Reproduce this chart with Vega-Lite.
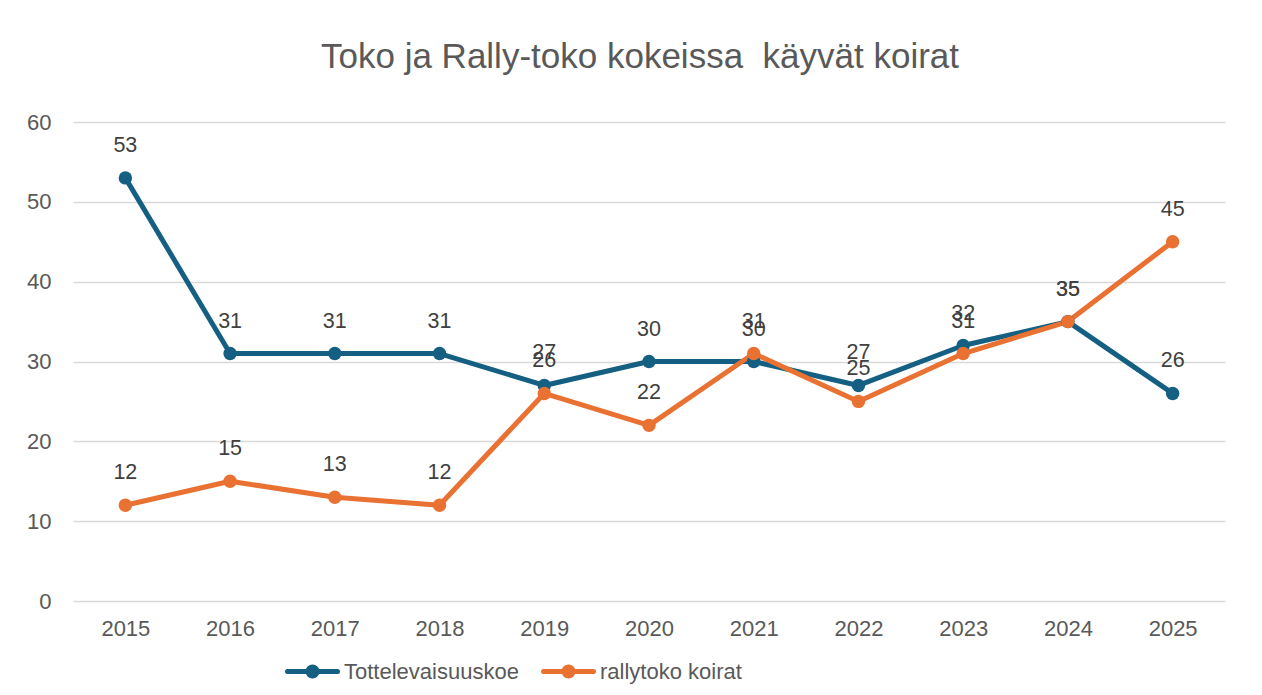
{
  "$schema": "https://vega.github.io/schema/vega-lite/v6.json",
  "width": 1152,
  "height": 479,
  "autosize": {"type": "none"},
  "padding": {"left": 73, "top": 122, "right": 37, "bottom": 94},
  "background": "white",
  "config": {
    "view": {"stroke": null},
    "font": "Liberation Sans"
  },
  "title": {
    "text": "Toko ja Rally-toko kokeissa\u00a0 käyvät koirat",
    "fontSize": 35,
    "fontWeight": "normal",
    "color": "#595959",
    "font": "Liberation Sans",
    "anchor": "middle",
    "dx": -9,
    "offset": 36
  },
  "data": {
    "values": [
      {"year": "2015", "series": "Tottelevaisuuskoe", "value": 53},
      {"year": "2016", "series": "Tottelevaisuuskoe", "value": 31},
      {"year": "2017", "series": "Tottelevaisuuskoe", "value": 31},
      {"year": "2018", "series": "Tottelevaisuuskoe", "value": 31},
      {"year": "2019", "series": "Tottelevaisuuskoe", "value": 27},
      {"year": "2020", "series": "Tottelevaisuuskoe", "value": 30},
      {"year": "2021", "series": "Tottelevaisuuskoe", "value": 30},
      {"year": "2022", "series": "Tottelevaisuuskoe", "value": 27},
      {"year": "2023", "series": "Tottelevaisuuskoe", "value": 32},
      {"year": "2024", "series": "Tottelevaisuuskoe", "value": 35},
      {"year": "2025", "series": "Tottelevaisuuskoe", "value": 26},
      {"year": "2015", "series": "rallytoko koirat", "value": 12},
      {"year": "2016", "series": "rallytoko koirat", "value": 15},
      {"year": "2017", "series": "rallytoko koirat", "value": 13},
      {"year": "2018", "series": "rallytoko koirat", "value": 12},
      {"year": "2019", "series": "rallytoko koirat", "value": 26},
      {"year": "2020", "series": "rallytoko koirat", "value": 22},
      {"year": "2021", "series": "rallytoko koirat", "value": 31},
      {"year": "2022", "series": "rallytoko koirat", "value": 25},
      {"year": "2023", "series": "rallytoko koirat", "value": 31},
      {"year": "2024", "series": "rallytoko koirat", "value": 35},
      {"year": "2025", "series": "rallytoko koirat", "value": 45}
    ]
  },
  "encoding": {
    "x": {
      "field": "year",
      "type": "ordinal",
      "scale": {"type": "point", "padding": 0.5},
      "axis": {
        "title": null,
        "labelAngle": 0,
        "labelFontSize": 22,
        "labelColor": "#595959",
        "labelPadding": 17,
        "domain": false,
        "ticks": false,
        "grid": false
      }
    },
    "y": {
      "field": "value",
      "type": "quantitative",
      "scale": {"domain": [0, 60], "nice": false},
      "axis": {
        "title": null,
        "values": [0, 10, 20, 30, 40, 50, 60],
        "labelFontSize": 22,
        "labelColor": "#595959",
        "labelPadding": 22,
        "domain": false,
        "ticks": false,
        "gridColor": "#d9d9d9",
        "gridWidth": 1.5
      }
    },
    "color": {
      "field": "series",
      "type": "nominal",
      "scale": {
        "domain": ["Tottelevaisuuskoe", "rallytoko koirat"],
        "range": ["#156082", "#E97132"]
      },
      "legend": {
        "title": null,
        "orient": "none",
        "direction": "horizontal",
        "legendX": 212,
        "legendY": 522,
        "labelFontSize": 22,
        "labelColor": "#595959",
        "labelOffset": 4,
        "labelLimit": 0,
        "columnPadding": 14,
        "symbolType": "M-1,0L1,0M0.18,0A0.18,0.18,0,1,1,-0.18,0A0.18,0.18,0,1,1,0.18,0Z",
        "symbolSize": 2500,
        "symbolStrokeWidth": 5,
        "encode": {
          "symbols": {
            "update": {
              "stroke": {"scale": "color", "field": "value"},
              "fill": {"scale": "color", "field": "value"},
              "strokeCap": {"value": "round"},
              "opacity": {"value": 1}
            }
          }
        }
      }
    }
  },
  "layer": [
    {
      "mark": {"type": "line", "strokeWidth": 5, "strokeCap": "round", "strokeJoin": "round"}
    },
    {
      "mark": {"type": "point", "filled": true, "size": 180, "opacity": 1, "shape": "circle"}
    },
    {
      "mark": {"type": "text", "dy": -32, "fontSize": 21.5, "baseline": "middle"},
      "encoding": {
        "text": {"field": "value", "type": "quantitative"},
        "color": {"value": "#404040"}
      }
    }
  ]
}
